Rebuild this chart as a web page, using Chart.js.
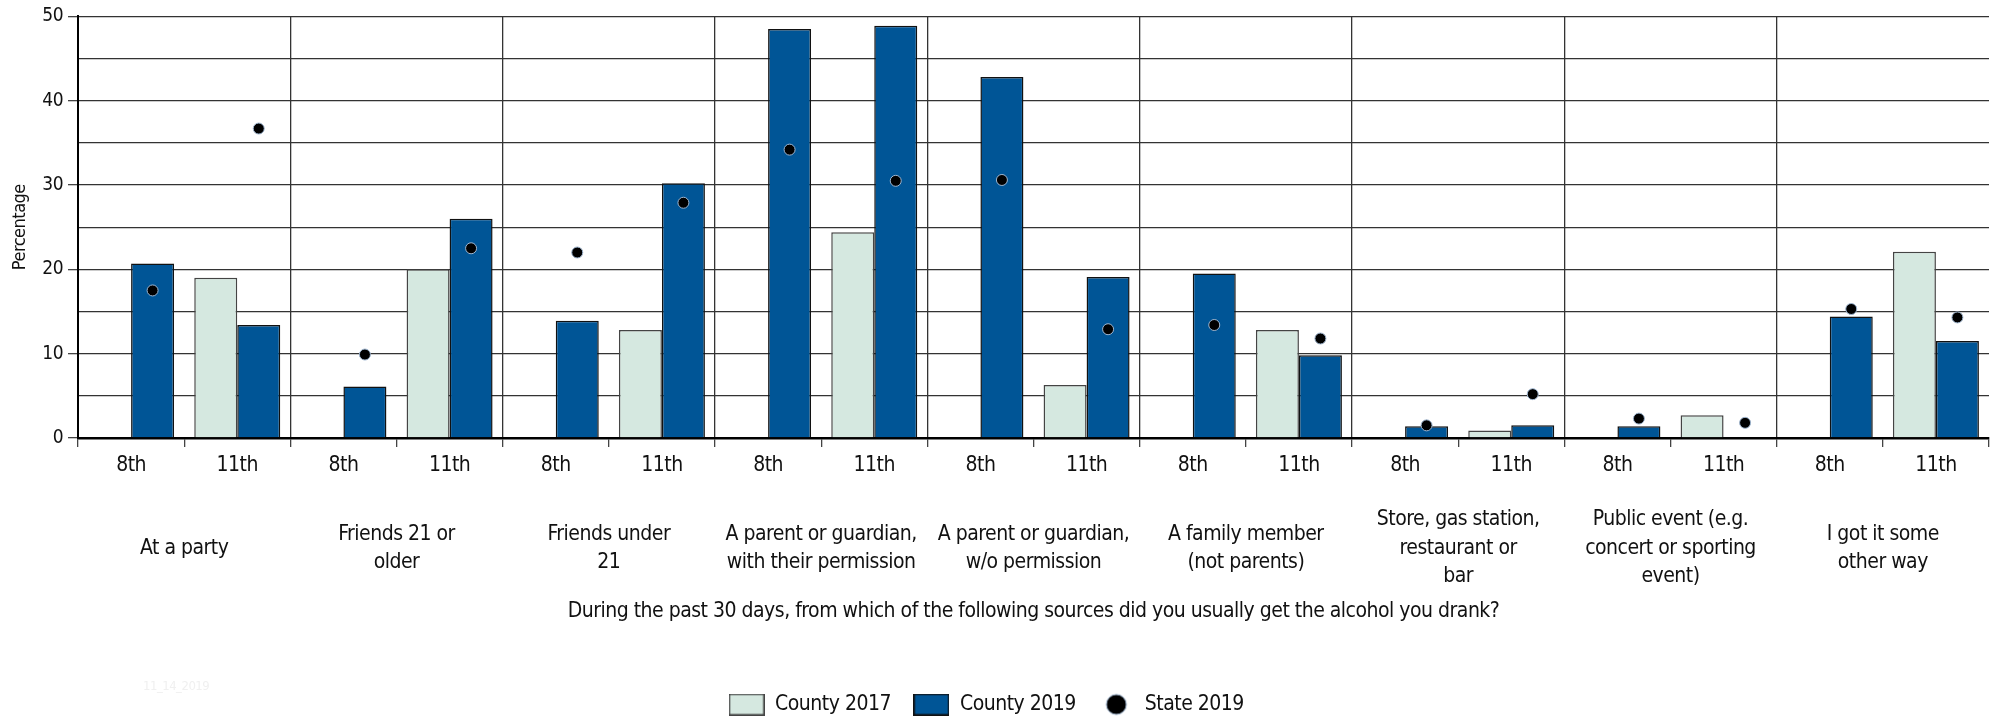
<!DOCTYPE html>
<html>
<head>
<meta charset="utf-8">
<script src="https://cdn.jsdelivr.net/npm/chart.js@4/dist/chart.umd.min.js"></script>
<style>
  body { margin: 0; background: #fff; }
</style>
</head>
<body>
<canvas id="myChart" width="2000" height="725"></canvas>
<script>
// sources (x axis groups) and grades within each source
const fuentes = [
  ['At a party'],
  ['Friends 21 or', 'older'],
  ['Friends under', '21'],
  ['A parent or guardian,', 'with their permission'],
  ['A parent or guardian,', 'w/o permission'],
  ['A family member', '(not parents)'],
  ['Store, gas station,', 'restaurant or', 'bar'],
  ['Public event (e.g.', 'concert or sporting', 'event)'],
  ['I got it some', 'other way']
];
const grados = ['8th', '11th'];
const yTicks = [0, 10, 20, 30, 40, 50];

// values, two per source: 8th, 11th
const county2017 = [null, 19.0, null, 20.0, null, 12.8, null, 24.4, null, 6.3,
                    null, 12.8, null, 0.9, null, 2.7, null, 22.1];
const county2019 = [20.7, 13.4, 6.1, 26.0, 13.9, 30.2, 48.5, 48.9, 42.8, 19.1,
                    19.5, 9.8, 1.4, 1.5, 1.4, null, 14.4, 11.5];
const state2019 = [17.5, 36.7, 9.9, 22.5, 22.0, 27.9, 34.2, 30.5, 30.6, 12.9,
                   13.4, 11.8, 1.5, 5.2, 2.3, 1.8, 15.3, 14.3];

const FONT = "'DejaVu Sans Condensed', 'Liberation Sans', sans-serif";
const catPct = 0.81;

// one label per bar group
const labelsGrado = [];
fuentes.forEach(() => grados.forEach(g => labelsGrado.push(g)));

// State dots sit over the County 2019 bar (right half of each group)
const puntosState = state2019.map((v, i) => ({ x: i + catPct / 4, y: v }));

// little canvases used as legend markers
function cajaLeyenda(fill, border) {
  const c = document.createElement('canvas');
  c.width = 36; c.height = 22;
  const g = c.getContext('2d');
  g.fillStyle = fill;
  g.fillRect(0, 0, 36, 22);
  g.strokeStyle = border;
  g.lineWidth = 1.5;
  g.strokeRect(0.75, 0.75, 34.5, 20.5);
  return c;
}
function puntoLeyenda() {
  const c = document.createElement('canvas');
  c.width = 24; c.height = 24;
  const g = c.getContext('2d');
  g.beginPath();
  g.arc(12, 12, 10, 0, Math.PI * 2);
  g.fillStyle = '#000';
  g.fill();
  g.strokeStyle = '#9fb6d0';
  g.lineWidth = 1;
  g.stroke();
  return c;
}
const marcadores = [cajaLeyenda('#d5e8e0', '#444'), cajaLeyenda('#005596', '#111'), puntoLeyenda()];

// narrow the text a bit, the original font is a condensed one
const texto = {
  id: 'texto',
  beforeLayout(chart) { chart.ctx.letterSpacing = '-0.5px'; },
  beforeDraw(chart) { chart.ctx.letterSpacing = '-0.5px'; },
  afterDraw(chart) {
    const ctx = chart.ctx;
    ctx.save();
    ctx.font = '13px ' + FONT;
    ctx.fillStyle = '#f0f0f0';
    ctx.textBaseline = 'middle';
    ctx.fillText('11_14_2019', 143, 687);
    ctx.restore();
  }
};

const config = {
  type: 'bar',
  data: {
    labels: labelsGrado,
    datasets: [
      {
        label: 'County 2017',
        data: county2017,
        backgroundColor: '#d5e8e0',
        borderColor: '#444',
        borderWidth: 1.5,
        categoryPercentage: catPct,
        barPercentage: 1,
        order: 2
      },
      {
        label: 'County 2019',
        data: county2019,
        backgroundColor: '#005596',
        borderColor: '#111',
        borderWidth: 1.5,
        categoryPercentage: catPct,
        barPercentage: 1,
        order: 2
      },
      {
        type: 'line',
        label: 'State 2019',
        data: puntosState,
        parsing: false,
        showLine: false,
        pointRadius: 5.5,
        pointHoverRadius: 5.5,
        pointBackgroundColor: '#000',
        pointBorderColor: '#9fb6d0',
        pointBorderWidth: 1,
        order: 1
      }
    ]
  },
  options: {
    responsive: false,
    animation: false,
    layout: { padding: { top: 16, right: 11, left: 0, bottom: 0 } },
    plugins: {
      tooltip: { enabled: false },
      legend: {
        position: 'bottom',
        labels: {
          usePointStyle: true,
          pointStyleWidth: 36,
          boxHeight: 22,
          padding: 6,
          color: '#111',
          font: { family: FONT, size: 21 },
          generateLabels(chart) {
            const items = Chart.defaults.plugins.legend.labels.generateLabels(chart);
            items.sort((a, b) => a.datasetIndex - b.datasetIndex);
            items.forEach(it => {
              it.pointStyle = marcadores[it.datasetIndex];
              it.text = it.text + '   ';
            });
            return items;
          }
        }
      }
    },
    scales: {
      x: {
        type: 'category',
        position: 'bottom',
        weight: 1,
        offset: true,
        afterFit(scale) { scale.height = 40; },
        grid: {
          offset: true,
          color: c => (c.index % 2 === 0 ? '#333' : 'rgba(0,0,0,0)'),
          tickColor: '#444',
          lineWidth: 1.3,
          tickLength: 9
        },
        border: { color: '#000', width: 2.5 },
        ticks: {
          autoSkip: false,
          maxRotation: 0,
          padding: 6,
          color: '#111',
          font: { family: FONT, size: 21 }
        }
      },
      xc: {
        type: 'category',
        position: 'bottom',
        weight: 2,
        labels: fuentes,
        offset: true,
        afterFit(scale) { scale.height = 210; },
        grid: { display: false, drawTicks: false },
        border: { display: false },
        ticks: {
          autoSkip: false,
          maxRotation: 0,
          padding: 42,
          crossAlign: 'center',
          color: '#111',
          font: { family: FONT, size: 21, lineHeight: 1.357 }
        },
        title: {
          display: true,
          text: 'During the past 30 days, from which of the following sources did you usually get the alcohol you drank?',
          color: '#111',
          font: { family: FONT, size: 21 },
          padding: { top: 8, bottom: 64 }
        }
      },
      y: {
        min: yTicks[0],
        max: yTicks[yTicks.length - 1],
        afterFit(scale) { scale.width = 78; },
        border: { color: '#000', width: 2 },
        grid: {
          color: '#333',
          lineWidth: 1.3,
          tickLength: 10,
          tickColor: c => (c.tick && yTicks.includes(c.tick.value) ? '#444' : 'rgba(0,0,0,0)')
        },
        ticks: {
          stepSize: 5,
          padding: 5,
          color: '#111',
          font: { family: FONT, size: 19 },
          callback: v => (yTicks.includes(v) ? v : '')
        },
        title: {
          display: true,
          text: 'Percentage',
          color: '#111',
          font: { family: FONT, size: 18 },
          padding: { top: 10, bottom: 0 }
        }
      }
    }
  },
  plugins: [texto]
};

const chart = new Chart(document.getElementById('myChart'), config);
</script>
</body>
</html>
